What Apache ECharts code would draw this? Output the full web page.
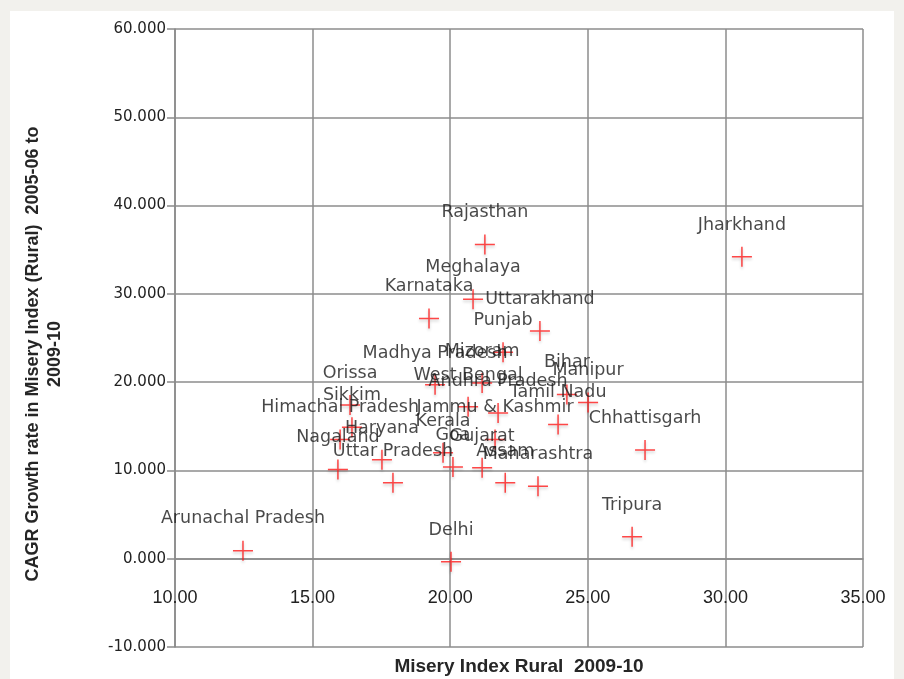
<!DOCTYPE html>
<html>
<head>
<meta charset="utf-8">
<script src="https://cdn.jsdelivr.net/npm/echarts@6/dist/echarts.min.js"></script>
<style>
html,body{margin:0;padding:0;background:#f2f1ed;}
#chart{position:absolute;left:0;top:0;width:904px;height:679px;}
</style>
</head>
<body>
<div id="chart"></div>
<script>
// Data
const states = ["Arunachal Pradesh","Delhi","Tripura","Jharkhand","Rajasthan","Meghalaya","Karnataka","Uttarakhand","Punjab","Madhya Pradesh","Mizoram","West Bengal","Andhra Pradesh","Bihar","Manipur","Tamil Nadu","Chhattisgarh","Jammu & Kashmir","Kerala","Goa","Gujarat","Assam","Maharashtra","Orissa","Sikkim","Himachal Pradesh","Haryana","Nagaland","Uttar Pradesh"];
const miseryIndexRural = [12.47,20.03,26.61,30.60,21.26,20.83,19.23,23.26,21.92,19.45,21.16,20.65,21.74,24.24,25.01,23.92,27.08,21.63,19.74,20.10,21.16,22.00,23.19,16.36,16.43,16.00,17.52,15.92,17.92];
const cagrGrowth = [0.91,-0.34,2.49,34.2,35.6,29.4,27.2,25.8,23.4,19.7,19.9,17.2,16.5,18.6,17.7,15.2,12.3,13.5,12.0,10.4,10.3,8.6,8.2,17.4,14.9,13.5,11.2,10.1,8.6];
const xTitle = "Misery Index Rural  2009-10";
const yTitle = "CAGR Growth rate in Misery Index (Rural)  2005-06 to\n2009-10";

const points = states.map((s, i) => ({ name: s, value: [miseryIndexRural[i], cagrGrowth[i]] }));

const chart = echarts.init(document.getElementById('chart'));
chart.setOption({
  backgroundColor: '#f2f1ed',
  animation: false,
  graphic: [{
    type: 'rect', z: -10, silent: true,
    shape: { x: 10, y: 11, width: 884, height: 680 },
    style: { fill: '#ffffff' }
  }, {
    type: 'text', silent: true,
    x: 44, y: 354, rotation: Math.PI / 2,
    style: {
      text: yTitle, fontFamily: 'Liberation Sans', fontSize: 18, fontWeight: 'bold',
      fill: '#262626', align: 'center', verticalAlign: 'middle', lineHeight: 22
    }
  }],
  grid: { left: 175, top: 29, width: 688, height: 618, containLabel: false, outerBoundsMode: 'none' },
  xAxis: {
    type: 'value', min: 10, max: 35, interval: 5,
    offset: -88.3,
    name: xTitle, nameLocation: 'middle', nameGap: 99,
    nameTextStyle: { fontFamily: 'Liberation Sans', fontSize: 19, fontWeight: 'bold', color: '#262626' },
    axisLine: { show: true, onZero: false, lineStyle: { color: '#8a8a8a', width: 1.5 } },
    axisTick: { show: false },
    axisLabel: { margin: 30, fontFamily: 'Liberation Sans', fontSize: 18, color: '#222', formatter: v => v.toFixed(2) },
    splitLine: { show: true, lineStyle: { color: '#8c8c8c', width: 1.5 } }
  },
  yAxis: {
    type: 'value', min: -10, max: 60, interval: 10,
    axisLine: { show: true, onZero: false, lineStyle: { color: '#8a8a8a', width: 1.5 } },
    axisTick: { show: true, inside: false, length: 8, lineStyle: { color: '#8a8a8a', width: 1.5 } },
    axisLabel: { margin: 9, fontFamily: 'DejaVu Sans', fontSize: 15, color: '#222', formatter: v => v.toFixed(3) },
    splitLine: { show: true, lineStyle: { color: '#8c8c8c', width: 1.5 } }
  },
  series: [{
    type: 'scatter',
    data: points,
    symbol: 'path://M0,10L20,10M10,0L10,20',
    symbolSize: 20,
    itemStyle: {
      color: 'rgba(0,0,0,0)', borderColor: '#ff1a1a', borderWidth: 1.5,
      shadowColor: 'rgba(0,0,0,0.25)', shadowBlur: 3, shadowOffsetY: 2
    },
    label: {
      show: true, position: 'top', distance: 12, formatter: '{b}',
      fontFamily: 'DejaVu Sans', fontSize: 17.5, color: '#1a1a1a'
    },
    labelLayout: { hideOverlap: false }
  }]
});
</script>
</body>
</html>
